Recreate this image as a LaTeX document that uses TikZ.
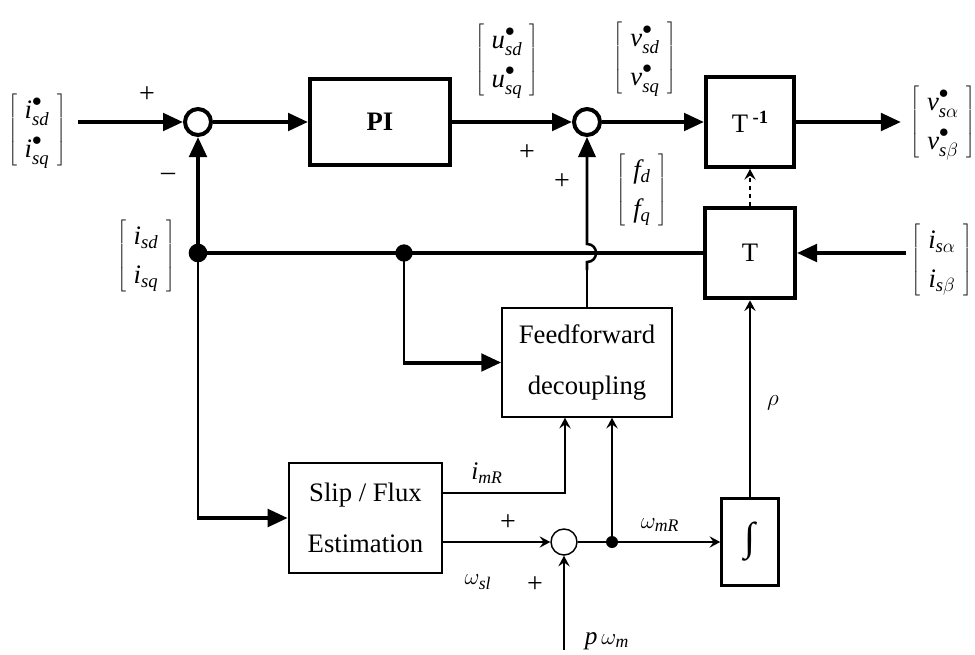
\documentclass[tikz,border=0pt]{standalone}
\usepackage{fontspec}
\setmainfont{Liberation Serif}
\usetikzlibrary{arrows.meta}
\newcommand\cvec[2]{\renewcommand\arraystretch{1.22}$\left[\begin{array}{@{\;}c@{\;}}#1\\#2\end{array}\right]$}
\newcommand\mi[1]{\mathit{#1}}
\newcommand\st{{\raisebox{1.5pt}{$\scriptstyle\bullet$}}}
\begin{document}
\begin{tikzpicture}[x=0.75pt,y=-0.75pt,
  thk/.style={line width=3pt},
  med/.style={line width=1.9pt},
  thn/.style={line width=1.1pt},
  bigtip/.style={-{Triangle[length=15pt,width=13pt]}},
  smalltip/.style={-{Stealth[length=8pt,width=8.5pt,inset=3pt]}},
  sumc/.style={circle,draw,inner sep=0pt,minimum size=19.5pt},
  blk/.style={draw,inner sep=0pt,align=center},
  boxtext/.style={font=\fontsize{20}{38}\selectfont},
  vec/.style={inner sep=0pt,font=\fontsize{20}{24}\selectfont},
  lab/.style={inner sep=0pt,font=\fontsize{19}{22}\selectfont},
  sgn/.style={inner sep=0pt,font=\fontsize{21}{21}\selectfont},
  dot/.style={circle,fill,inner sep=0pt},
]
\useasboundingbox (0,0) rectangle (975,654);

% blocks
\node[blk,thk,minimum width=105pt,minimum height=64.5pt,font=\fontsize{20}{20}\selectfont\bfseries] (pi) at (380,122) {PI};
\node[blk,thk,minimum width=66pt,minimum height=67.5pt,font=\fontsize{20}{20}\selectfont] (ti) at (750,122) {T\,\raisebox{0.75ex}{\fontsize{14}{14}\selectfont\bfseries -1}};
\node[blk,thk,minimum width=67.5pt,minimum height=68pt,font=\fontsize{20}{20}\selectfont] (t) at (750,253) {T};
\node[blk,thn,boxtext,minimum width=127.5pt,minimum height=81.75pt] (ff) at (587,362.5) {Feedforward\\decoupling};
\node[blk,med,boxtext,minimum width=114.75pt,minimum height=82.5pt] (slip) at (365.5,518) {Slip / Flux\\Estimation};
\node[blk,med,minimum width=42.75pt,minimum height=65.25pt,font=\fontsize{30}{30}\selectfont] (int) at (750,542) {∫};

% summing junctions
\node[sumc,thk] (s1) at (198,122) {};
\node[sumc,thk] (s2) at (587,122) {};
\node[sumc,thn] (s3) at (564,542) {};

% branch points
\node[dot,minimum size=14pt] (j1) at (198,253) {};
\node[dot,minimum size=13pt] (j2) at (404,253) {};
\node[dot,minimum size=9pt] (j3) at (612,542) {};

% vectors
\node[vec] (vin) at (37,130) {\cvec{\mi{i}^{\st}_{\mi{sd}}}{\mi{i}^{\st}_{\mi{sq}}}};
\node[vec] (vu) at (507,60) {\cvec{\mi{u}^{\st}_{\mi{sd}}}{\mi{u}^{\st}_{\mi{sq}}}};
\node[vec] (vv) at (645,58) {\cvec{\mi{v}^{\st}_{\mi{sd}}}{\mi{v}^{\st}_{\mi{sq}}}};
\node[vec] (vf) at (642,190) {\cvec{\mi{f}_{\mi{d}}}{\mi{f}_{\mi{q}}}};
\node[vec] (vi) at (146,256) {\cvec{\mi{i}_{\mi{sd}}}{\mi{i}_{\mi{sq}}}};
\node[vec] (vout) at (943,122) {\cvec{\mi{v}^{\st}_{\mi{s}\alpha}}{\mi{v}^{\st}_{\mi{s}\beta}}};
\node[vec] (vrin) at (942,260) {\cvec{\mi{i}_{\mi{s}\alpha}}{\mi{i}_{\mi{s}\beta}}};

% signs and labels
\node[sgn] (p1) at (147,95) {+};
\node[sgn] (m1) at (168,177) {–};
\node[sgn] (p2) at (527,153) {+};
\node[sgn] (p3) at (562,182) {+};
\node[sgn] (p4) at (508,523) {+};
\node[sgn] (p5) at (535,585) {+};
\node[lab] (limr) at (487,473) {$\mi{i}_{\mi{mR}}$};
\node[lab] (lwsl) at (478,582) {$\omega_{\mi{sl}}$};
\node[lab] (lwmr) at (660,525) {$\omega_{\mi{mR}}$};
\node[lab] (lpwm) at (607,641) {$\mi{p}\,\omega_{\mi{m}}$};
\node[lab] (lrho) at (773,403) {$\rho$};

\coordinate (pin) at (564,650);

% main forward path
\draw[thk,bigtip,shorten <=9pt] (vin.east |- s1.west) -- (s1.west);
\draw[thk,bigtip] (s1.east) -- (pi.west);
\draw[thk,bigtip] (pi.east) -- (s2.west);
\draw[thk,bigtip] (s2.east) -- (ti.west);
\draw[thk,bigtip,shorten >=7pt] (ti.east) -- (vout.west |- ti.east);

% measured currents
\draw[thk,bigtip,shorten <=4pt] (vrin.west |- t.east) -- (t.east);
\draw[thk] (t.west) -- (j1.center);
\draw[thk,bigtip] (j1.center) -- (s1.south);
\draw[thn,dashed,smalltip] (t.north) -- (ti.south);

% feedback down to slip estimation
\draw[med] (j1.center) -- (j1 |- slip.west);
\draw[thk,bigtip,shorten <=-1pt] (j1 |- slip.west) -- (slip.west);
\draw[med] (j2.center) -- (j2 |- ff.west);
\draw[thk,bigtip,shorten <=-1pt] (j2 |- ff.west) -- (ff.west);

% feedforward output with hop
\draw[thn] (ff.north) -- (587,270);
\draw[med,bigtip] (587,270) -- (587,262) .. controls (599,262) and (599,244) .. (587,244) -- (s2.south);

% slip estimator outputs
\draw[thn,smalltip] ([yshift=18.75pt]slip.east) -| ([xshift=-16.5pt]ff.south);
\draw[thn,smalltip] ([yshift=-18pt]slip.east) -- (s3.west);
\draw[thn] (s3.east) -- (j3.center);
\draw[thn,smalltip] (j3.center) -- (int.west);
\draw[med,smalltip] (j3.center) -- (j3 |- ff.south);
\draw[thn,smalltip] (pin) -- (s3.south);

% angle to transformation
\draw[thn,smalltip] (int.north) -- (t.south);
\end{tikzpicture}
\end{document}
